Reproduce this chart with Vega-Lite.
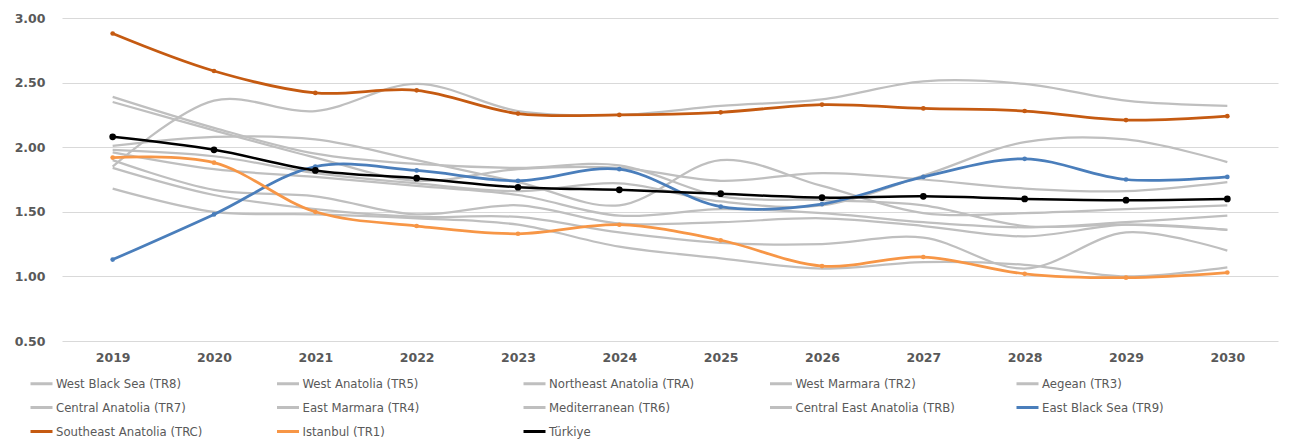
{
  "$schema": "https://vega.github.io/schema/vega-lite/v6.json",
  "width": 1216,
  "height": 323,
  "autosize": {"type": "none"},
  "padding": {"left": 62, "top": 18, "right": 11, "bottom": 104},
  "background": "#ffffff",
  "config": {
    "view": {"stroke": null},
    "axis": {
      "labelFont": "DejaVu Sans",
      "labelFontWeight": "bold",
      "labelFontSize": 12.5,
      "labelColor": "#595959",
      "domain": false,
      "ticks": false,
      "title": null
    },
    "legend": {
      "orient": "none",
      "legendX": -33,
      "legendY": 353,
      "direction": "horizontal",
      "columns": 5,
      "gridAlign": "all",
      "symbolType": "stroke",
      "symbolSize": 484,
      "symbolStrokeWidth": 3,
      "labelFont": "DejaVu Sans Condensed, Liberation Sans, sans-serif",
      "labelFontSize": 13,
      "labelColor": "#595959",
      "labelLimit": 0,
      "labelOffset": 2,
      "columnPadding": 50.5,
      "rowPadding": 4,
      "title": null
    }
  },
  "datasets": {
    "rates": [
      {"series": "West Black Sea  (TR8)", "year": "2019", "value": 1.96},
      {"series": "West Black Sea  (TR8)", "year": "2020", "value": 1.83},
      {"series": "West Black Sea  (TR8)", "year": "2021", "value": 1.77},
      {"series": "West Black Sea  (TR8)", "year": "2022", "value": 1.70},
      {"series": "West Black Sea  (TR8)", "year": "2023", "value": 1.63},
      {"series": "West Black Sea  (TR8)", "year": "2024", "value": 1.47},
      {"series": "West Black Sea  (TR8)", "year": "2025", "value": 1.52},
      {"series": "West Black Sea  (TR8)", "year": "2026", "value": 1.49},
      {"series": "West Black Sea  (TR8)", "year": "2027", "value": 1.42},
      {"series": "West Black Sea  (TR8)", "year": "2028", "value": 1.38},
      {"series": "West Black Sea  (TR8)", "year": "2029", "value": 1.42},
      {"series": "West Black Sea  (TR8)", "year": "2030", "value": 1.47},

      {"series": "West Anatolia  (TR5)", "year": "2019", "value": 1.90},
      {"series": "West Anatolia  (TR5)", "year": "2020", "value": 1.67},
      {"series": "West Anatolia  (TR5)", "year": "2021", "value": 1.62},
      {"series": "West Anatolia  (TR5)", "year": "2022", "value": 1.48},
      {"series": "West Anatolia  (TR5)", "year": "2023", "value": 1.55},
      {"series": "West Anatolia  (TR5)", "year": "2024", "value": 1.41},
      {"series": "West Anatolia  (TR5)", "year": "2025", "value": 1.42},
      {"series": "West Anatolia  (TR5)", "year": "2026", "value": 1.45},
      {"series": "West Anatolia  (TR5)", "year": "2027", "value": 1.39},
      {"series": "West Anatolia  (TR5)", "year": "2028", "value": 1.31},
      {"series": "West Anatolia  (TR5)", "year": "2029", "value": 1.40},
      {"series": "West Anatolia  (TR5)", "year": "2030", "value": 1.36},

      {"series": "Northeast Anatolia  (TRA)", "year": "2019", "value": 2.01},
      {"series": "Northeast Anatolia  (TRA)", "year": "2020", "value": 2.08},
      {"series": "Northeast Anatolia  (TRA)", "year": "2021", "value": 2.06},
      {"series": "Northeast Anatolia  (TRA)", "year": "2022", "value": 1.90},
      {"series": "Northeast Anatolia  (TRA)", "year": "2023", "value": 1.73},
      {"series": "Northeast Anatolia  (TRA)", "year": "2024", "value": 1.55},
      {"series": "Northeast Anatolia  (TRA)", "year": "2025", "value": 1.90},
      {"series": "Northeast Anatolia  (TRA)", "year": "2026", "value": 1.70},
      {"series": "Northeast Anatolia  (TRA)", "year": "2027", "value": 1.49},
      {"series": "Northeast Anatolia  (TRA)", "year": "2028", "value": 1.49},
      {"series": "Northeast Anatolia  (TRA)", "year": "2029", "value": 1.52},
      {"series": "Northeast Anatolia  (TRA)", "year": "2030", "value": 1.55},

      {"series": "West Marmara  (TR2)", "year": "2019", "value": 1.68},
      {"series": "West Marmara  (TR2)", "year": "2020", "value": 1.50},
      {"series": "West Marmara  (TR2)", "year": "2021", "value": 1.48},
      {"series": "West Marmara  (TR2)", "year": "2022", "value": 1.45},
      {"series": "West Marmara  (TR2)", "year": "2023", "value": 1.40},
      {"series": "West Marmara  (TR2)", "year": "2024", "value": 1.23},
      {"series": "West Marmara  (TR2)", "year": "2025", "value": 1.14},
      {"series": "West Marmara  (TR2)", "year": "2026", "value": 1.06},
      {"series": "West Marmara  (TR2)", "year": "2027", "value": 1.11},
      {"series": "West Marmara  (TR2)", "year": "2028", "value": 1.09},
      {"series": "West Marmara  (TR2)", "year": "2029", "value": 1.00},
      {"series": "West Marmara  (TR2)", "year": "2030", "value": 1.07},

      {"series": "Aegean  (TR3)", "year": "2019", "value": 1.84},
      {"series": "Aegean  (TR3)", "year": "2020", "value": 1.63},
      {"series": "Aegean  (TR3)", "year": "2021", "value": 1.52},
      {"series": "Aegean  (TR3)", "year": "2022", "value": 1.46},
      {"series": "Aegean  (TR3)", "year": "2023", "value": 1.46},
      {"series": "Aegean  (TR3)", "year": "2024", "value": 1.34},
      {"series": "Aegean  (TR3)", "year": "2025", "value": 1.26},
      {"series": "Aegean  (TR3)", "year": "2026", "value": 1.25},
      {"series": "Aegean  (TR3)", "year": "2027", "value": 1.30},
      {"series": "Aegean  (TR3)", "year": "2028", "value": 1.06},
      {"series": "Aegean  (TR3)", "year": "2029", "value": 1.34},
      {"series": "Aegean  (TR3)", "year": "2030", "value": 1.20},

      {"series": "Central Anatolia  (TR7)", "year": "2019", "value": 2.39},
      {"series": "Central Anatolia  (TR7)", "year": "2020", "value": 2.15},
      {"series": "Central Anatolia  (TR7)", "year": "2021", "value": 1.95},
      {"series": "Central Anatolia  (TR7)", "year": "2022", "value": 1.87},
      {"series": "Central Anatolia  (TR7)", "year": "2023", "value": 1.84},
      {"series": "Central Anatolia  (TR7)", "year": "2024", "value": 1.86},
      {"series": "Central Anatolia  (TR7)", "year": "2025", "value": 1.62},
      {"series": "Central Anatolia  (TR7)", "year": "2026", "value": 1.59},
      {"series": "Central Anatolia  (TR7)", "year": "2027", "value": 1.55},
      {"series": "Central Anatolia  (TR7)", "year": "2028", "value": 1.39},
      {"series": "Central Anatolia  (TR7)", "year": "2029", "value": 1.40},
      {"series": "Central Anatolia  (TR7)", "year": "2030", "value": 1.36},

      {"series": "East Marmara  (TR4)", "year": "2019", "value": 2.35},
      {"series": "East Marmara  (TR4)", "year": "2020", "value": 2.13},
      {"series": "East Marmara  (TR4)", "year": "2021", "value": 1.92},
      {"series": "East Marmara  (TR4)", "year": "2022", "value": 1.74},
      {"series": "East Marmara  (TR4)", "year": "2023", "value": 1.83},
      {"series": "East Marmara  (TR4)", "year": "2024", "value": 1.84},
      {"series": "East Marmara  (TR4)", "year": "2025", "value": 1.74},
      {"series": "East Marmara  (TR4)", "year": "2026", "value": 1.80},
      {"series": "East Marmara  (TR4)", "year": "2027", "value": 1.75},
      {"series": "East Marmara  (TR4)", "year": "2028", "value": 1.68},
      {"series": "East Marmara  (TR4)", "year": "2029", "value": 1.66},
      {"series": "East Marmara  (TR4)", "year": "2030", "value": 1.73},

      {"series": "Mediterranean  (TR6)", "year": "2019", "value": 1.98},
      {"series": "Mediterranean  (TR6)", "year": "2020", "value": 1.93},
      {"series": "Mediterranean  (TR6)", "year": "2021", "value": 1.80},
      {"series": "Mediterranean  (TR6)", "year": "2022", "value": 1.72},
      {"series": "Mediterranean  (TR6)", "year": "2023", "value": 1.66},
      {"series": "Mediterranean  (TR6)", "year": "2024", "value": 1.72},
      {"series": "Mediterranean  (TR6)", "year": "2025", "value": 1.58},
      {"series": "Mediterranean  (TR6)", "year": "2026", "value": 1.55},
      {"series": "Mediterranean  (TR6)", "year": "2027", "value": 1.78},
      {"series": "Mediterranean  (TR6)", "year": "2028", "value": 2.04},
      {"series": "Mediterranean  (TR6)", "year": "2029", "value": 2.06},
      {"series": "Mediterranean  (TR6)", "year": "2030", "value": 1.885},

      {"series": "Central East Anatolia  (TRB)", "year": "2019", "value": 1.85},
      {"series": "Central East Anatolia  (TRB)", "year": "2020", "value": 2.36},
      {"series": "Central East Anatolia  (TRB)", "year": "2021", "value": 2.28},
      {"series": "Central East Anatolia  (TRB)", "year": "2022", "value": 2.49},
      {"series": "Central East Anatolia  (TRB)", "year": "2023", "value": 2.28},
      {"series": "Central East Anatolia  (TRB)", "year": "2024", "value": 2.25},
      {"series": "Central East Anatolia  (TRB)", "year": "2025", "value": 2.32},
      {"series": "Central East Anatolia  (TRB)", "year": "2026", "value": 2.37},
      {"series": "Central East Anatolia  (TRB)", "year": "2027", "value": 2.51},
      {"series": "Central East Anatolia  (TRB)", "year": "2028", "value": 2.49},
      {"series": "Central East Anatolia  (TRB)", "year": "2029", "value": 2.36},
      {"series": "Central East Anatolia  (TRB)", "year": "2030", "value": 2.32},

      {"series": "East Black Sea  (TR9)", "year": "2019", "value": 1.13},
      {"series": "East Black Sea  (TR9)", "year": "2020", "value": 1.48},
      {"series": "East Black Sea  (TR9)", "year": "2021", "value": 1.85},
      {"series": "East Black Sea  (TR9)", "year": "2022", "value": 1.82},
      {"series": "East Black Sea  (TR9)", "year": "2023", "value": 1.74},
      {"series": "East Black Sea  (TR9)", "year": "2024", "value": 1.83},
      {"series": "East Black Sea  (TR9)", "year": "2025", "value": 1.54},
      {"series": "East Black Sea  (TR9)", "year": "2026", "value": 1.56},
      {"series": "East Black Sea  (TR9)", "year": "2027", "value": 1.77},
      {"series": "East Black Sea  (TR9)", "year": "2028", "value": 1.91},
      {"series": "East Black Sea  (TR9)", "year": "2029", "value": 1.75},
      {"series": "East Black Sea  (TR9)", "year": "2030", "value": 1.77},

      {"series": "Southeast Anatolia  (TRC)", "year": "2019", "value": 2.88},
      {"series": "Southeast Anatolia  (TRC)", "year": "2020", "value": 2.59},
      {"series": "Southeast Anatolia  (TRC)", "year": "2021", "value": 2.42},
      {"series": "Southeast Anatolia  (TRC)", "year": "2022", "value": 2.44},
      {"series": "Southeast Anatolia  (TRC)", "year": "2023", "value": 2.26},
      {"series": "Southeast Anatolia  (TRC)", "year": "2024", "value": 2.25},
      {"series": "Southeast Anatolia  (TRC)", "year": "2025", "value": 2.27},
      {"series": "Southeast Anatolia  (TRC)", "year": "2026", "value": 2.33},
      {"series": "Southeast Anatolia  (TRC)", "year": "2027", "value": 2.30},
      {"series": "Southeast Anatolia  (TRC)", "year": "2028", "value": 2.28},
      {"series": "Southeast Anatolia  (TRC)", "year": "2029", "value": 2.21},
      {"series": "Southeast Anatolia  (TRC)", "year": "2030", "value": 2.24},

      {"series": "Istanbul  (TR1)", "year": "2019", "value": 1.92},
      {"series": "Istanbul  (TR1)", "year": "2020", "value": 1.88},
      {"series": "Istanbul  (TR1)", "year": "2021", "value": 1.50},
      {"series": "Istanbul  (TR1)", "year": "2022", "value": 1.39},
      {"series": "Istanbul  (TR1)", "year": "2023", "value": 1.33},
      {"series": "Istanbul  (TR1)", "year": "2024", "value": 1.40},
      {"series": "Istanbul  (TR1)", "year": "2025", "value": 1.28},
      {"series": "Istanbul  (TR1)", "year": "2026", "value": 1.08},
      {"series": "Istanbul  (TR1)", "year": "2027", "value": 1.15},
      {"series": "Istanbul  (TR1)", "year": "2028", "value": 1.02},
      {"series": "Istanbul  (TR1)", "year": "2029", "value": 0.99},
      {"series": "Istanbul  (TR1)", "year": "2030", "value": 1.03},

      {"series": "Türkiye", "year": "2019", "value": 2.08},
      {"series": "Türkiye", "year": "2020", "value": 1.98},
      {"series": "Türkiye", "year": "2021", "value": 1.82},
      {"series": "Türkiye", "year": "2022", "value": 1.76},
      {"series": "Türkiye", "year": "2023", "value": 1.69},
      {"series": "Türkiye", "year": "2024", "value": 1.67},
      {"series": "Türkiye", "year": "2025", "value": 1.64},
      {"series": "Türkiye", "year": "2026", "value": 1.61},
      {"series": "Türkiye", "year": "2027", "value": 1.62},
      {"series": "Türkiye", "year": "2028", "value": 1.60},
      {"series": "Türkiye", "year": "2029", "value": 1.59},
      {"series": "Türkiye", "year": "2030", "value": 1.60}
    ]
  },
  "data": {"name": "rates"},
  "encoding": {
    "x": {
      "field": "year",
      "type": "ordinal",
      "scale": {"type": "point", "padding": 0.5},
      "axis": {"labelAngle": 0, "labelPadding": 10, "grid": false}
    },
    "y": {
      "field": "value",
      "type": "quantitative",
      "scale": {"domain": [0.5, 3], "nice": false, "zero": false},
      "axis": {
        "values": [0.5, 1, 1.5, 2, 2.5, 3],
        "format": ".2f",
        "labelPadding": 17,
        "grid": true,
        "gridColor": "#D9D9D9",
        "gridWidth": 1
      }
    },
    "color": {
      "field": "series",
      "type": "nominal",
      "scale": {
        "domain": [
          "West Black Sea  (TR8)", "West Anatolia  (TR5)", "Northeast Anatolia  (TRA)",
          "West Marmara  (TR2)", "Aegean  (TR3)", "Central Anatolia  (TR7)",
          "East Marmara  (TR4)", "Mediterranean  (TR6)", "Central East Anatolia  (TRB)",
          "East Black Sea  (TR9)", "Southeast Anatolia  (TRC)", "Istanbul  (TR1)", "Türkiye"
        ],
        "range": [
          "#BFBFBF", "#BFBFBF", "#BFBFBF", "#BFBFBF", "#BFBFBF", "#BFBFBF",
          "#BFBFBF", "#BFBFBF", "#BFBFBF",
          "#4A7EBB", "#C55A11", "#F79646", "#000000"
        ]
      },
      "legend": {}
    }
  },
  "layer": [
    {
      "transform": [{"filter": {"field": "series", "oneOf": [
        "West Black Sea  (TR8)", "West Anatolia  (TR5)", "Northeast Anatolia  (TRA)",
        "West Marmara  (TR2)", "Aegean  (TR3)", "Central Anatolia  (TR7)",
        "East Marmara  (TR4)", "Mediterranean  (TR6)", "Central East Anatolia  (TRB)"]}}],
      "mark": {"type": "line", "interpolate": "catmull-rom", "strokeWidth": 2.25}
    },
    {
      "transform": [{"filter": {"field": "series", "equal": "East Black Sea  (TR9)"}}],
      "mark": {"type": "line", "interpolate": "catmull-rom", "strokeWidth": 2.75}
    },
    {
      "transform": [{"filter": {"field": "series", "equal": "Southeast Anatolia  (TRC)"}}],
      "mark": {"type": "line", "interpolate": "catmull-rom", "strokeWidth": 2.75}
    },
    {
      "transform": [{"filter": {"field": "series", "equal": "Istanbul  (TR1)"}}],
      "mark": {"type": "line", "interpolate": "catmull-rom", "strokeWidth": 2.75}
    },
    {
      "transform": [{"filter": {"field": "series", "oneOf": ["East Black Sea  (TR9)", "Southeast Anatolia  (TRC)", "Istanbul  (TR1)"]}}],
      "mark": {"type": "point", "filled": true, "opacity": 1, "size": 22}
    },
    {
      "transform": [{"filter": {"field": "series", "equal": "Türkiye"}}],
      "mark": {"type": "line", "interpolate": "catmull-rom", "strokeWidth": 2.5}
    },
    {
      "transform": [{"filter": {"field": "series", "equal": "Türkiye"}}],
      "mark": {"type": "point", "filled": true, "opacity": 1, "size": 45}
    }
  ]
}
